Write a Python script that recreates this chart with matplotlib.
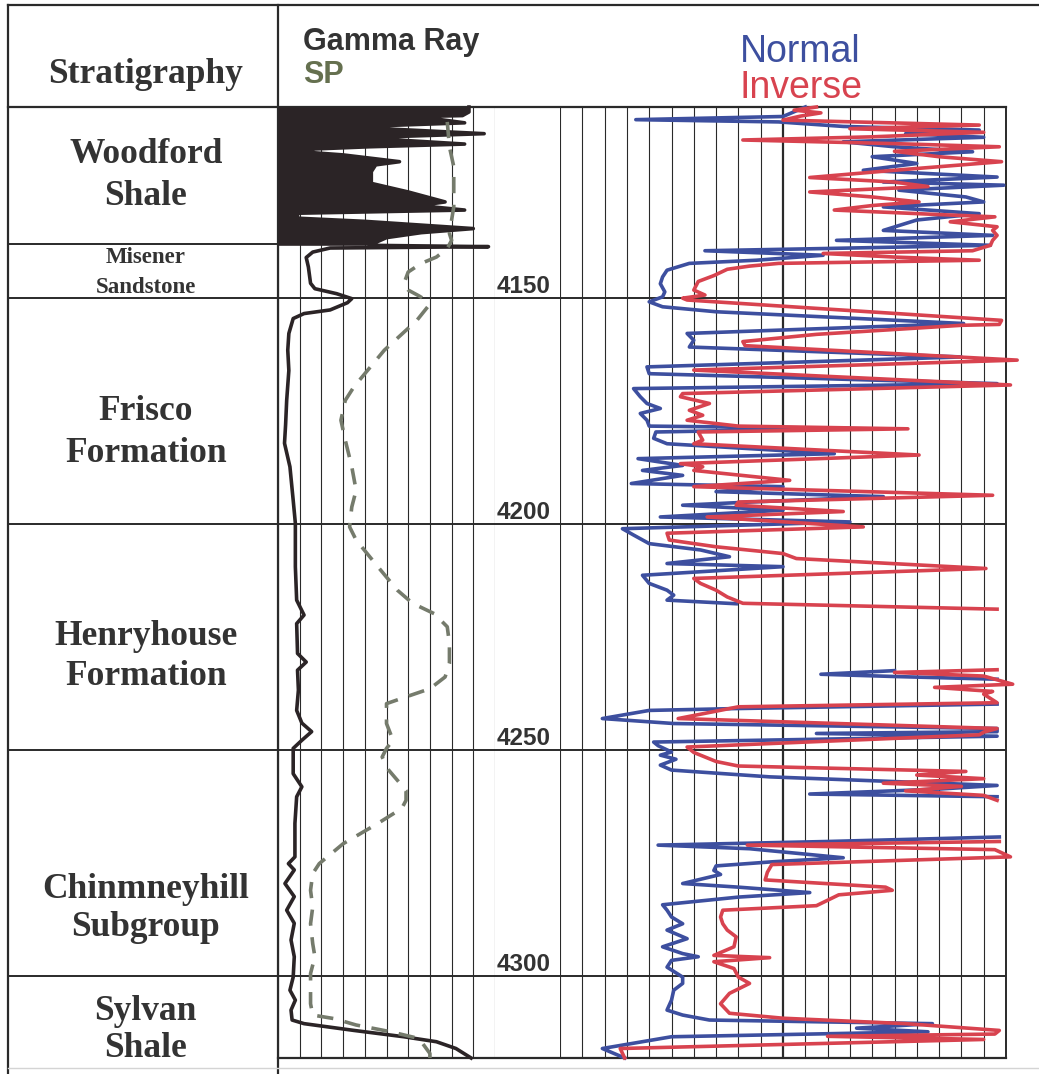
import matplotlib
matplotlib.use("Agg")
import matplotlib.pyplot as plt
import numpy as np

nan = np.nan

# ---- depth frame (ft) ----
TOP_DEPTH = 4107.7
BASE_DEPTH = 4318.1
depth_marks = [4150, 4200, 4250, 4300]
woodford_base = 4137.9

formation_names = [
    ["Woodford", "Shale"],
    ["Misener", "Sandstone"],
    ["Frisco", "Formation"],
    ["Henryhouse", "Formation"],
    ["Chinmneyhill", "Subgroup"],
    ["Sylvan", "Shale"],
]

# ---- gamma ray (API, track 0-100) ----
gr_log = [
    (4107.7, 88), (4108.8, 88), (4109.6, 85), (4110.0, 46), (4110.5, 75),
    (4111.2, 86), (4111.8, 50), (4112.5, 48), (4113.6, 95), (4114.3, 50),
    (4115.0, 55), (4115.9, 86), (4116.5, 42), (4117.0, 16), (4117.8, 16),
    (4118.3, 30), (4119.8, 56), (4120.5, 45), (4122.0, 43), (4124.6, 43),
    (4126.5, 60), (4128.7, 77), (4129.5, 65), (4130.5, 86), (4131.2, 9),
    (4132.3, 9), (4133.0, 40), (4134.6, 90), (4135.5, 66), (4136.6, 50),
    (4138.3, 42), (4138.6, 97), (4138.9, 24), (4139.8, 16), (4141.0, 13),
    (4143.1, 14), (4146.7, 15), (4147.9, 17), (4149.0, 27), (4150.1, 34),
    (4151.0, 32), (4152.6, 24), (4153.4, 12), (4154.5, 7), (4157.8, 5),
    (4161.5, 4.5), (4166.0, 5), (4172.6, 4), (4178.0, 3.5), (4182.1, 3),
    (4187.3, 5.5), (4194.7, 7), (4199.8, 8), (4209.4, 8), (4216.8, 8.6),
    (4220.1, 12), (4222.0, 8.6), (4228.6, 9), (4230.5, 13), (4232.3, 9),
    (4236.7, 9.4), (4241.2, 8.6), (4244.0, 11), (4245.9, 15.5), (4247.8, 11),
    (4249.6, 7), (4255.2, 7), (4258.1, 11), (4260.3, 8.6), (4266.2, 7.8),
    (4273.6, 7.8), (4275.1, 4.8), (4276.5, 7.5), (4279.5, 3.2), (4282.4, 7.5),
    (4285.4, 4), (4288.3, 7.5), (4292.0, 6), (4295.7, 7.5), (4300.2, 7),
    (4303.1, 5.5), (4305.3, 8), (4307.5, 6), (4309.7, 6.5), (4310.5, 12),
    (4312.0, 35), (4313.4, 58), (4314.5, 73), (4316.0, 82), (4318.1, 89),
]

# ---- SP (mV, track -100..0) ----
sp_log = [
    (4111.0, -22), (4116.5, -21), (4120.9, -19), (4125.4, -19), (4129.8, -19),
    (4132.7, -20), (4135.7, -21), (4137.2, -20), (4139.0, -22), (4140.9, -27),
    (4142.3, -34), (4144.2, -40), (4146.8, -42), (4148.2, -40), (4149.5, -35),
    (4150.4, -32), (4151.9, -31), (4154.9, -36), (4161.5, -51), (4169.6, -65),
    (4172.6, -69), (4177.0, -71), (4181.4, -69), (4187.3, -66), (4192.5, -64),
    (4196.2, -66), (4200.6, -67), (4203.5, -64), (4209.4, -54), (4214.6, -45),
    (4217.5, -38), (4219.8, -28), (4222.7, -22), (4226.4, -21), (4230.8, -21),
    (4233.8, -23), (4236.4, -30), (4238.2, -41), (4239.7, -50), (4244.1, -50),
    (4247.8, -47), (4249.6, -50), (4251.5, -52), (4254.4, -49), (4258.9, -41),
    (4261.1, -41), (4262.9, -43), (4266.2, -54), (4270.7, -70), (4275.1, -81),
    (4277.3, -84), (4281.0, -85), (4284.7, -84), (4288.4, -85), (4292.8, -84),
    (4295.7, -83), (4299.4, -85), (4303.1, -85), (4306.1, -85), (4308.6, -84),
    (4309.4, -74), (4310.8, -64), (4312.3, -48), (4313.8, -35), (4317.1, -30),
    (4318.1, -30),
]

# ---- normal resistivity (ohm-m, track 0-20) ----
normal_log = [
    (4107.7, 11.0), (4109.8, 10.0), (4110.5, 3.4), (4111.0, 9.8), (4112.0, 12.7),
    (4112.8, 18.8), (4113.6, 15.5), (4114.4, 19.0), (4115.4, 12.7), (4116.5, 15.0),
    (4117.6, 18.5), (4118.7, 14.0), (4120.2, 16.0), (4121.7, 13.6), (4123.2, 19.6),
    (4124.3, 14.5), (4125.0, 19.9), (4126.1, 15.2), (4127.6, 18.2), (4128.7, 19.0),
    (4129.8, 14.5), (4131.3, 18.8), (4132.7, 16.0), (4135.0, 14.5), (4136.1, 19.4),
    (4137.2, 12.4), (4138.3, 19.3), (4139.0, 12.0), (4139.5, 6.5), (4140.5, 11.8),
    (4141.6, 8.8), (4142.3, 5.8), (4143.8, 4.8), (4145.3, 4.6), (4146.8, 4.5),
    (4148.6, 4.7), (4149.7, 4.6), (4150.8, 4.0), (4151.9, 4.6), (4153.0, 7.0),
    (4155.6, 18.1), (4157.8, 5.7), (4159.3, 6.0), (4160.8, 5.8), (4163.0, 18.0),
    (4165.2, 3.9), (4166.7, 4.0), (4168.9, 19.6), (4170.0, 3.3), (4171.8, 3.6),
    (4173.3, 3.9), (4174.4, 4.5), (4175.5, 3.6), (4177.0, 3.9), (4178.3, 4.0),
    (4178.8, 13.0), (4179.6, 4.3), (4181.0, 4.2), (4182.2, 4.8), (4184.4, 12.3),
    (4185.5, 3.5), (4187.0, 5.5), (4188.1, 3.7), (4189.2, 5.5), (4191.0, 3.2),
    (4191.7, 10.0), (4192.8, 7.0), (4193.9, 14.5), (4195.1, 8.5), (4195.8, 5.5),
    (4196.9, 10.0), (4198.4, 4.5), (4199.5, 13.0), (4201.0, 2.8), (4202.4, 3.3),
    (4204.3, 4.0), (4205.7, 6.3), (4207.2, 7.6), (4208.7, 4.8), (4209.4, 10.0),
    (4211.3, 3.7), (4213.1, 4.0), (4214.6, 4.8), (4215.7, 5.1), (4216.8, 4.8),
    (4217.6, 7.9), (4218.0, nan),
    (4232.4, 15.0), (4233.2, 11.7), (4233.7, 15.0), (4234.3, 19.6), (4235.0, nan),
    (4239.8, 19.6), (4240.8, 7.8), (4241.2, 4.0), (4243.0, 1.9), (4244.1, 5.1),
    (4245.2, 19.6), (4245.9, 19.6), (4246.3, 11.5), (4246.9, 19.6), (4248.2, 4.2),
    (4249.0, 4.4), (4250.4, 5.0), (4251.1, 4.5), (4252.0, 5.2), (4253.3, 4.5),
    (4254.4, 5.0), (4255.9, 9.4), (4257.8, 19.6), (4258.6, 17.0), (4259.7, 11.2),
    (4260.3, 19.6), (4261.0, nan),
    (4269.2, 19.7), (4270.2, 12.0), (4271.0, 4.4), (4271.8, 8.5), (4273.8, 12.7),
    (4274.7, 9.5), (4275.6, 7.0), (4276.6, 6.9), (4277.5, 7.2), (4279.5, 5.5),
    (4280.3, 8.0), (4281.5, 11.2), (4282.5, 8.0), (4284.2, 4.6), (4285.4, 4.8),
    (4286.9, 5.0), (4288.4, 5.5), (4289.8, 4.8), (4291.7, 5.7), (4293.5, 4.6),
    (4295.0, 5.5), (4295.7, 6.2), (4296.5, 5.0), (4298.0, 4.8), (4300.2, 5.5),
    (4301.6, 5.5), (4303.1, 5.1), (4305.3, 5.0), (4307.5, 4.8), (4308.6, 5.5),
    (4309.7, 6.7), (4310.5, 16.7), (4311.5, 13.3), (4312.3, 16.5), (4313.4, 5.0),
    (4316.0, 1.9), (4318.1, 2.9),
]

# ---- inverse resistivity (ohm-m, track 0-20) ----
inverse_log = [
    (4107.7, 11.5), (4108.4, 10.5), (4109.0, 11.7), (4109.7, 10.8), (4110.6, 10.0),
    (4111.7, 18.8), (4112.5, 13.0), (4113.3, 19.0), (4114.3, 14.0), (4115.0, 8.2),
    (4115.8, 15.0), (4116.5, 19.7), (4117.5, 15.0), (4118.7, 17.0), (4119.8, 19.8),
    (4121.7, 15.0), (4123.3, 11.2), (4124.3, 15.0), (4125.3, 16.5), (4126.5, 11.2),
    (4127.6, 14.0), (4128.7, 16.1), (4129.5, 14.0), (4130.5, 12.3), (4131.5, 17.0),
    (4132.0, 19.5), (4133.1, 17.5), (4134.2, 19.6), (4135.0, 19.4), (4136.1, 19.6),
    (4137.2, 19.4), (4138.3, 19.3), (4139.5, 18.5), (4140.1, 11.8), (4140.9, 15.0),
    (4141.6, 18.8), (4142.3, 9.8), (4142.9, 8.5), (4143.6, 7.5), (4145.0, 6.9),
    (4146.3, 6.2), (4148.2, 6.0), (4149.3, 6.5), (4150.0, 5.5), (4150.4, 5.7),
    (4154.9, 19.8), (4155.8, 19.7), (4156.0, 18.0), (4158.0, 11.5), (4159.6, 8.2),
    (4160.5, 8.3), (4163.7, 20.5), (4165.9, 6.0), (4169.2, 20.2), (4171.1, 5.5),
    (4171.8, 5.4), (4173.3, 6.7), (4174.8, 5.8), (4175.9, 6.4), (4177.0, 5.7),
    (4178.3, 8.0), (4178.9, 15.6), (4179.6, 6.2), (4181.4, 6.4), (4182.2, 6.0),
    (4184.7, 16.1), (4186.6, 5.4), (4187.3, 6.4), (4188.1, 6.0), (4190.3, 10.3),
    (4191.7, 6.0), (4193.6, 19.4), (4195.1, 8.0), (4195.8, 7.9), (4197.2, 12.7),
    (4198.4, 6.6), (4200.6, 13.6), (4202.0, 4.8), (4203.5, 4.9), (4205.0, 7.0),
    (4206.5, 10.0), (4207.6, 10.6), (4209.8, 19.1), (4212.0, 6.0), (4213.1, 6.3),
    (4214.6, 7.0), (4216.1, 7.5), (4217.5, 8.2), (4218.8, 19.6), (4219.2, nan),
    (4232.2, 19.6), (4232.8, 15.0), (4233.6, 19.0), (4235.4, 20.3), (4236.1, 16.8),
    (4237.0, 19.4), (4237.6, 19.0), (4239.5, 19.6), (4240.4, 8.0), (4243.0, 5.3),
    (4245.2, 19.6), (4246.0, 19.0), (4246.6, 18.8), (4249.3, 5.7), (4250.5, 6.0),
    (4252.5, 7.0), (4253.5, 8.0), (4254.7, 18.2), (4255.5, 16.0), (4256.3, 19.0),
    (4257.3, 14.5), (4258.0, 18.0), (4259.0, 15.5), (4260.0, 19.0), (4261.1, 19.6),
    (4262.0, nan),
    (4270.2, 19.7), (4271.0, 8.4), (4272.0, 19.5), (4273.6, 20.2), (4275.3, 9.5),
    (4277.0, 9.3), (4278.7, 9.2), (4280.3, 14.6), (4281.0, 14.9), (4282.0, 12.5),
    (4284.4, 11.5), (4285.4, 7.3), (4286.9, 7.2), (4288.4, 7.3), (4289.8, 7.5),
    (4291.3, 7.9), (4293.5, 7.8), (4295.4, 6.9), (4295.9, 9.4), (4296.8, 6.9),
    (4298.3, 7.8), (4300.2, 8.0), (4301.6, 8.5), (4303.8, 7.6), (4306.1, 7.2),
    (4308.2, 7.6), (4309.3, 10.0), (4310.5, 15.5), (4312.0, 19.7), (4312.8, 19.5),
    (4313.3, 12.0), (4314.0, 19.0), (4316.0, 2.7), (4318.1, 2.9),
]

# ---- layout (pixels of the 1039 x 1074 canvas) ----
W, H = 1039, 1074
X_LEFT, X_STRAT, X_GR, X_DEPTH, X_RES = 8, 278, 495, 560, 1006
Y_TOP, Y_HEAD, Y_BASE = 5, 107, 1058

LINE = "#2a2a2a"
TEXT = "#333333"
GR_COLOR = "#2b2426"
SP_COLOR = "#757b6c"
NORMAL_COLOR = "#3d4f9f"
INVERSE_COLOR = "#d8434f"


def fig_rect(x0, x1, y0, y1):
    return [x0 / W, 1 - y1 / H, (x1 - x0) / W, (y1 - y0) / H]


fig = plt.figure(figsize=(W / 100, H / 100), dpi=100)
fig.patch.set_facecolor("white")

# frame / header overlay in pixel units
frame = fig.add_axes([0, 0, 1, 1])
frame.set_xlim(0, W)
frame.set_ylim(H, 0)
frame.axis("off")
frame.plot([X_LEFT, W], [Y_TOP, Y_TOP], color=LINE, lw=1.6)
frame.plot([X_LEFT, X_LEFT], [Y_TOP, H], color=LINE, lw=1.6)
frame.plot([X_STRAT, X_STRAT], [Y_TOP, H], color=LINE, lw=1.6)
frame.plot([X_LEFT, X_RES], [Y_HEAD, Y_HEAD], color=LINE, lw=1.6)
frame.plot([X_STRAT, X_RES], [Y_BASE, Y_BASE], color=LINE, lw=1.6)
frame.plot([X_RES, X_RES], [Y_HEAD, Y_BASE], color=LINE, lw=1.4)
frame.plot([X_LEFT, W], [1068, 1068], color="#d4d4d4", lw=1.0)

serif = "Liberation Serif"
sans = "Liberation Sans"
frame.text((X_LEFT + X_STRAT) / 2 + 3, 83, "Stratigraphy", ha="center", va="baseline",
           fontsize=25.5, fontweight="bold", family=serif, color=TEXT)
frame.text(303, 50, "Gamma Ray", ha="left", va="baseline", fontsize=22,
           fontweight="bold", family=sans, color=TEXT)
frame.text(303, 83, "SP", ha="left", va="baseline", fontsize=22,
           fontweight="bold", family=sans, color="#65704f")
frame.text(800, 62, "Normal", ha="center", va="baseline", fontsize=27,
           family=sans, color=NORMAL_COLOR)
frame.text(801, 98, "Inverse", ha="center", va="baseline", fontsize=27,
           family=sans, color=INVERSE_COLOR)


def track(x0, x1):
    ax = fig.add_axes(fig_rect(x0, x1, Y_HEAD, Y_BASE))
    ax.set_ylim(BASE_DEPTH, TOP_DEPTH)
    ax.patch.set_alpha(0)
    ax.axis("off")
    return ax


ax_strat = track(X_LEFT, X_STRAT)
ax_gr = track(X_STRAT, X_GR)
ax_depth = track(X_GR, X_DEPTH)
ax_res = track(X_DEPTH, X_RES)

ax_strat.set_xlim(0, 1)
ax_depth.set_xlim(0, 1)
ax_gr.set_xlim(0, 100)
ax_res.set_xlim(0, 20)

for ax in (ax_strat, ax_gr, ax_depth, ax_res):
    for d in depth_marks:
        ax.axhline(d, color=LINE, lw=1.4, zorder=1)
ax_strat.axhline(woodford_base, color=LINE, lw=1.4)

for v in range(0, 101, 10):
    ax_gr.axvline(v, color=LINE, lw=0.8, zorder=1)
for v in range(0, 21):
    ax_res.axvline(v, color=LINE, lw=1.6 if v == 10 else 0.8, zorder=1)

# stratigraphy labels (first-line baseline depth, line step)
label_pos = [(4120.1, 9.3), (4142.2, 6.6), (4176.9, 9.3),
             (4226.7, 8.9), (4282.7, 8.3), (4309.7, 8.2)]
for lines, (d0, step) in zip(formation_names, label_pos):
    size = 16.5 if lines[0] == "Misener" else 25.5
    for i, word in enumerate(lines):
        ax_strat.text(0.51, d0 + i * step, word, ha="center", va="baseline",
                      fontsize=size, fontweight="bold", family=serif,
                      color=TEXT, clip_on=False)

for d in depth_marks:
    ax_depth.text(0.03, d - 1.1, str(d), ha="left", va="baseline", fontsize=17.5,
                  fontweight="bold", family=sans, color=TEXT)

# gamma ray with shale fill
gr_d, gr_v = np.array(gr_log).T
ax_gr.fill_betweenx(gr_d, 0, gr_v, where=gr_d <= woodford_base + 0.5,
                    color=GR_COLOR, lw=0, zorder=2)
ax_gr.plot(gr_v, gr_d, color=GR_COLOR, lw=2.6, zorder=3, clip_on=False)

ax_sp = ax_gr.twiny()
ax_sp.set_xlim(-100, 0)
ax_sp.set_ylim(BASE_DEPTH, TOP_DEPTH)
ax_sp.axis("off")
sp_d, sp_v = np.array(sp_log).T
ax_sp.plot(sp_v, sp_d, color=SP_COLOR, lw=2.6, linestyle=(0, (4.5, 3.2)), zorder=4)

nd, nv = np.array(normal_log).T
idd, iv = np.array(inverse_log).T
ax_res.plot(nv, nd, color=NORMAL_COLOR, lw=2.6, zorder=3, clip_on=False)
ax_res.plot(iv, idd, color=INVERSE_COLOR, lw=2.6, zorder=4, clip_on=False)

fig.savefig("out.png", dpi=100, facecolor="white")
